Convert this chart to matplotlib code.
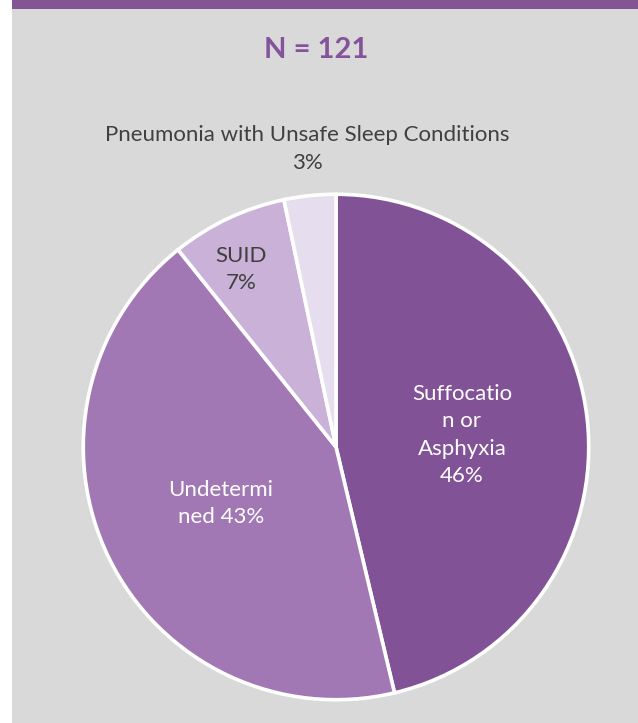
import matplotlib
matplotlib.use("Agg")
import matplotlib.pyplot as plt
from matplotlib.patches import Rectangle

# Data
categories = ["Suffocation or Asphyxia", "Undetermined", "SUID",
              "Pneumonia with Unsafe Sleep Conditions"]
counts = [56, 52, 9, 4]
display_labels = ["Suffocatio\nn or\nAsphyxia", "Undetermi\nned", "SUID",
                  "Pneumonia with Unsafe Sleep Conditions"]
title_text = "N = 121"

colors = ["#825296", "#A278B4", "#C9B1D7", "#E6DEEE"]
plt.rcParams['font.family'] = ['Lato', 'DejaVu Sans']

W, H = 638, 723
fig = plt.figure(figsize=(W / 100, H / 100), dpi=100, facecolor="white")

# background panel and top band
fig.add_artist(Rectangle((12 / W, 0), 1 - 12 / W, 1, transform=fig.transFigure,
                         facecolor="#D9D9D9", edgecolor="none", zorder=0))
fig.add_artist(Rectangle((12 / W, 1 - 9 / H), 1 - 12 / W, 9 / H, transform=fig.transFigure,
                         facecolor="#845595", edgecolor="none", zorder=0))

cx, cy, r = 336, 447, 254
ax = fig.add_axes([(cx - r) / W, (H - cy - r) / H, 2 * r / W, 2 * r / H])
ax.set_facecolor("none")
ax.pie(counts, colors=colors, startangle=90, counterclock=False, radius=0.995,
       wedgeprops=dict(edgecolor="white", linewidth=2.6))
ax.set_xlim(-1, 1)
ax.set_ylim(-1, 1)
ax.set_aspect("equal")
ax.axis("off")

total = sum(counts)
pcts = [round(100 * c / total) for c in counts]

fs = 16
ls = 1.45
ax.text(0.496, 0.047, f"{display_labels[0]}\n{pcts[0]}%", ha="center", va="center",
        color="white", fontsize=fs, linespacing=ls)
ax.text(-0.453, -0.224, f"{display_labels[1]} {pcts[1]}%", ha="center", va="center",
        color="white", fontsize=fs, linespacing=ls)
ax.text(-0.374, 0.70, f"{display_labels[2]}\n{pcts[2]}%", ha="center", va="center",
        color="#404040", fontsize=fs, linespacing=ls)
ax.text(-0.114, 1.173, f"{display_labels[3]}\n{pcts[3]}%", ha="center", va="center",
        color="#404040", fontsize=fs, linespacing=ls)

fig.text(316 / W, 1 - 50 / H, title_text, ha="center", va="center",
         color="#84539B", fontsize=21, fontweight="bold")

fig.savefig("out.png", dpi=100, facecolor="white")
